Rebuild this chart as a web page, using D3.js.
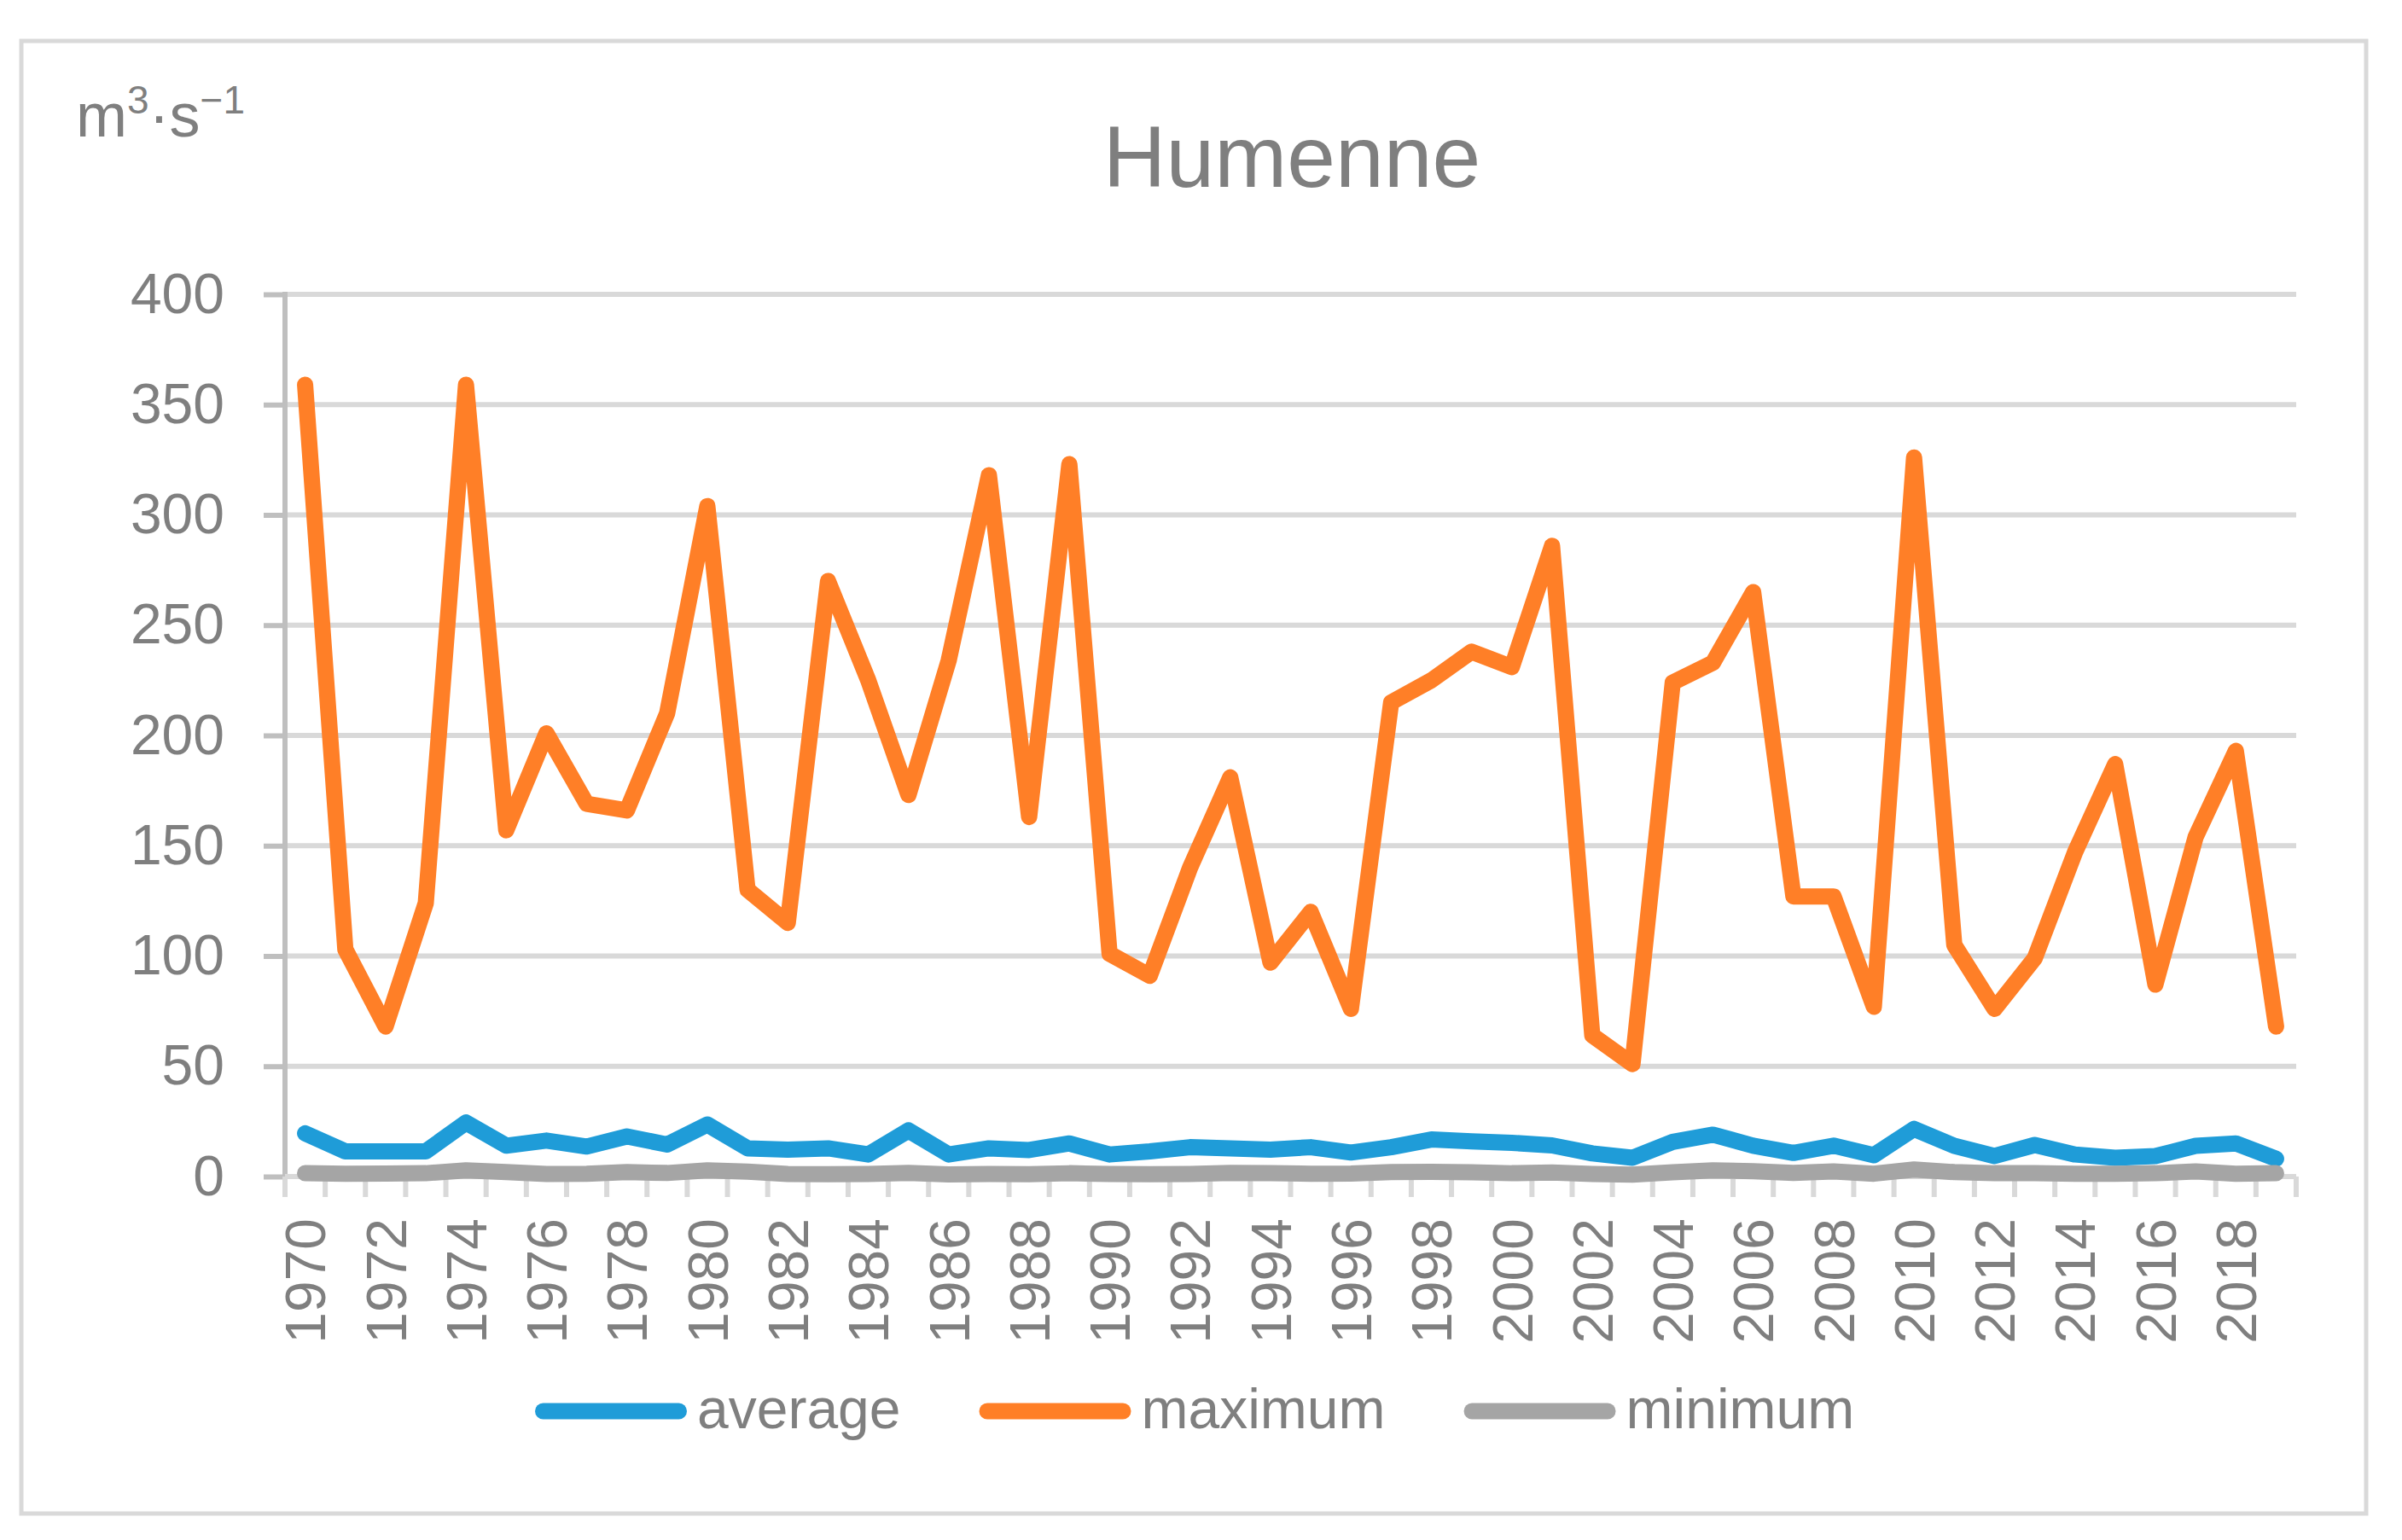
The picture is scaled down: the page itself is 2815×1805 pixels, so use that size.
<!DOCTYPE html>
<html>
<head>
<meta charset="utf-8">
<script src="https://cdn.jsdelivr.net/npm/d3@7"></script>
<style>
  html, body { margin: 0; padding: 0; background: #fff; }
  text { font-family: "Liberation Sans", Arial, sans-serif; fill: #7f7f7f; }
</style>
</head>
<body>
<svg id="chart" width="2815" height="1805"></svg>
<script>
const years = d3.range(1970, 2020);
const average = [19.6, 11.4, 11.4, 11.4, 24.5, 14, 16.3, 13.6, 18.2, 14.5,
  23.6, 12.8, 12.2, 12.8, 10, 20.9, 10, 12.8, 12, 15,
  10, 11.4, 13.3, 12.8, 12.2, 13.3, 10.9, 13.3, 16.8, 16,
  15.3, 14.1, 10.5, 8.5, 15.7, 19, 14, 10.7, 14, 9.7,
  21.6, 13.9, 9.3, 14.3, 10, 8.5, 9.3, 13.9, 15, 8.1];
const maximum = [359, 103, 68, 124, 359, 157, 201, 169, 166, 210,
  304, 130, 115, 270, 225, 173, 234, 318, 163, 323,
  101, 91, 140, 181, 97, 120, 76, 215, 225, 238,
  231, 286, 64, 51, 224, 233, 265, 127, 127, 77,
  326, 105, 76, 99, 147, 187, 87, 154, 193, 68];
const minimum = [1.5, 1.3, 1.4, 1.5, 2.8, 2.0, 1.2, 1.3, 2.0, 1.6,
  2.8, 2.2, 1.2, 1.1, 1.2, 1.6, 1.0, 1.2, 1.1, 1.5,
  1.2, 1.1, 1.2, 1.6, 1.5, 1.3, 1.4, 2.0, 2.1, 1.9,
  1.5, 1.8, 1.2, 0.9, 1.9, 2.8, 2.4, 1.6, 2.3, 1.3,
  3.2, 2.0, 1.5, 1.5, 1.3, 1.3, 1.5, 2.3, 1.3, 1.5];
const yTicks = [0, 50, 100, 150, 200, 250, 300, 350, 400];
const xTickLabels = years.filter(y => y % 2 === 0);
const seriesNames = ["average", "maximum", "minimum"];
const seriesColors = ["#1f9cd8", "#ff7f27", "#a5a5a5"];
const title = "Humenne";

const svg = d3.select("#chart");

// outer frame
svg.append("rect")
  .attr("x", 25).attr("y", 48).attr("width", 2748).attr("height", 1726)
  .attr("fill", "#fff").attr("stroke", "#d9d9d9").attr("stroke-width", 5);

const pLeft = 334, pRight = 2691, pTop = 345, pBottom = 1379;

const x = d3.scaleBand().domain(years).range([pLeft, pRight]).padding(0);
const y = d3.scaleLinear().domain([0, 400]).range([pBottom, pTop]);
const cx = d => x(d) + x.bandwidth() / 2;

// gridlines
svg.append("g").selectAll("line").data(yTicks).join("line")
  .attr("x1", pLeft).attr("x2", pRight)
  .attr("y1", d => y(d)).attr("y2", d => y(d))
  .attr("stroke", "#d9d9d9").attr("stroke-width", 6);

// y axis
const yAxis = svg.append("g").attr("transform", `translate(${pLeft},0)`)
  .call(d3.axisLeft(y).tickValues(yTicks).tickSize(25).tickPadding(46).tickFormat(d3.format("d")));
yAxis.select(".domain").attr("stroke", "#bfbfbf").attr("stroke-width", 6)
  .attr("d", `M0,${pTop - 3}V${pBottom + 3}`);
yAxis.selectAll(".tick line").attr("stroke", "#bfbfbf").attr("stroke-width", 6);
yAxis.selectAll(".tick text").attr("font-size", 66).attr("fill", "#7f7f7f")
  .style("font-family", '"Liberation Sans", Arial, sans-serif');

// x axis tick marks at category boundaries
const boundaries = years.map(d => x(d)).concat([pRight]);
svg.append("g").selectAll("line").data(boundaries).join("line")
  .attr("x1", d => d).attr("x2", d => d)
  .attr("y1", pBottom).attr("y2", pBottom + 24)
  .attr("stroke", "#d9d9d9").attr("stroke-width", 6);
svg.append("line").attr("x1", pLeft).attr("x2", pRight)
  .attr("y1", pBottom).attr("y2", pBottom)
  .attr("stroke", "#d9d9d9").attr("stroke-width", 6);

// x axis labels
const xAxis = svg.append("g").attr("transform", `translate(0,${pBottom})`)
  .call(d3.axisBottom(x).tickValues(xTickLabels).tickSize(0).tickPadding(0));
xAxis.select(".domain").remove();
xAxis.selectAll(".tick text")
  .attr("font-size", 66).attr("fill", "#7f7f7f")
  .style("font-family", '"Liberation Sans", Arial, sans-serif')
  .attr("text-anchor", "end")
  .attr("transform", "rotate(-90)")
  .attr("x", -49).attr("y", 0).attr("dy", "0.36em");

// lines
const seriesData = [average, maximum, minimum];
const line = d3.line().x((d, i) => cx(years[i])).y(d => y(d));
seriesData.forEach((vals, k) => {
  svg.append("path").datum(vals)
    .attr("d", line)
    .attr("fill", "none")
    .attr("stroke", seriesColors[k])
    .attr("stroke-width", 19)
    .attr("stroke-linejoin", "round")
    .attr("stroke-linecap", "round");
});

// title
svg.append("text").attr("x", 1514).attr("y", 219)
  .attr("text-anchor", "middle").attr("font-size", 102).text(title);

// units label
const units = svg.append("text").attr("x", 89).attr("y", 160).attr("font-size", 72);
units.append("tspan").text("m");
units.append("tspan").attr("font-size", 46).attr("dy", -27).text("3");
units.append("tspan").attr("dy", 27).text("·s");
units.append("tspan").attr("font-size", 46).attr("dy", -27).text("−1");

// legend
const legend = svg.append("g");
const legY = 1654;
let lx = 627;
seriesNames.forEach((name, k) => {
  legend.append("line")
    .attr("x1", lx + 9.5).attr("x2", lx + 178 - 9.5)
    .attr("y1", legY).attr("y2", legY)
    .attr("stroke", seriesColors[k]).attr("stroke-width", 19)
    .attr("stroke-linecap", "round");
  const t = legend.append("text").attr("x", lx + 190).attr("y", legY + 20)
    .attr("font-size", 66).text(name);
  const w = t.node().getComputedTextLength();
  lx = lx + 190 + w + 92;
});
</script>
</body>
</html>
